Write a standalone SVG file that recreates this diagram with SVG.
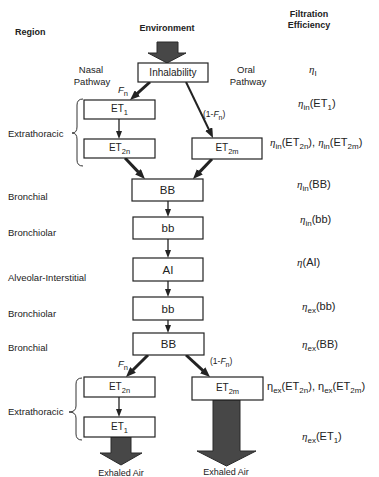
<svg xmlns="http://www.w3.org/2000/svg" width="379" height="477" viewBox="0 0 379 477">
<style>
  text { font-family: "Liberation Sans", Arial, sans-serif; fill: #222; }
  .hdr { font-size: 9px; font-weight: bold; }
  .reg { font-size: 9.5px; }
  .lbl { font-size: 10px; text-anchor: middle; }
  .big { font-size: 11.5px; text-anchor: middle; }
  .eff { font-size: 11px; }
  .eta { font-family: "Liberation Serif", "Times New Roman", serif; font-style: italic; }
  .box { fill: #fff; stroke: #222; stroke-width: 1.2; }
  .thin { stroke: #222; stroke-width: 1.3; fill: none; }
  .thick { stroke: #222; stroke-width: 3; fill: none; }
  .med { stroke: #222; stroke-width: 2; fill: none; }
  .brace { stroke: #333; stroke-width: 1; fill: none; }
  .fat { fill: #474747; stroke: #2a2a2a; stroke-width: 1; }
</style>
<defs>
  <marker id="ah" markerUnits="userSpaceOnUse" markerWidth="8" markerHeight="6" refX="0.5" refY="3" orient="auto">
    <path d="M0,0 L8,3 L0,6 z" fill="#222"/>
  </marker>
  <marker id="ahT" markerUnits="userSpaceOnUse" markerWidth="10" markerHeight="8" refX="0.5" refY="4" orient="auto">
    <path d="M0,0 L10,4 L0,8 z" fill="#222"/>
  </marker>
</defs>

<!-- headers -->
<text class="hdr" x="15" y="35">Region</text>
<text class="hdr" x="167" y="31" text-anchor="middle">Environment</text>
<text class="hdr" x="309" y="17" text-anchor="middle">Filtration</text>
<text class="hdr" x="309" y="28" text-anchor="middle">Efficiency</text>

<!-- region labels -->
<g id="region-labels">
  <text class="reg" x="8" y="137">Extrathoracic</text>
  <text class="reg" x="8" y="200">Bronchial</text>
  <text class="reg" x="8" y="236">Bronchiolar</text>
  <text class="reg" x="8" y="281">Alveolar-Interstitial</text>
  <text class="reg" x="8" y="317">Bronchiolar</text>
  <text class="reg" x="8" y="351">Bronchial</text>
  <text class="reg" x="8" y="415">Extrathoracic</text>
</g>

<!-- braces -->
<path class="brace" d="M83,99 Q77,99 77,105 L77,127 Q77,133 72,133 Q77,133 77,139 L77,160 Q77,166 83,166"/>
<path class="brace" d="M82,378 Q76,378 76,384 L76,406 Q76,412 69,412 Q76,412 76,418 L76,434 Q76,440 82,440"/>

<!-- pathway labels -->
<text class="reg" x="91" y="73" text-anchor="middle">Nasal</text>
<text class="reg" x="92" y="85" text-anchor="middle">Pathway</text>
<text class="reg" x="246" y="73" text-anchor="middle">Oral</text>
<text class="reg" x="248" y="85" text-anchor="middle">Pathway</text>

<!-- big arrows -->
<polygon class="fat" points="157,42 178,42 178,53 186,53 167,63 148,53 157,53"/>
<polygon class="fat" points="111,437 131,437 131,453 142,453 121,465 100,453 111,453"/>
<polygon class="fat" points="213,400 240,400 240,451 256,451 226.5,466 197,451 213,451"/>
<text class="reg" x="121" y="476" text-anchor="middle" style="font-size:9px">Exhaled Air</text>
<text class="reg" x="226" y="475" text-anchor="middle" style="font-size:9px">Exhaled Air</text>

<!-- connectors -->
<g id="connectors">
  <line class="thick" x1="150" y1="82" x2="137.1" y2="93.6" marker-end="url(#ahT)"/>
  <line class="med" x1="186" y1="82" x2="208.9" y2="129.5" marker-end="url(#ahT)"/>
  <line class="thin" x1="119" y1="119" x2="119" y2="131.5" marker-end="url(#ah)"/>
  <line class="thick" x1="125" y1="158" x2="138.4" y2="172.1" marker-end="url(#ahT)"/>
  <line class="thick" x1="212" y1="159" x2="199.5" y2="172.1" marker-end="url(#ahT)"/>
  <line class="thin" x1="168" y1="201" x2="168" y2="209.5" marker-end="url(#ah)"/>
  <line class="thin" x1="168" y1="239" x2="168" y2="250.5" marker-end="url(#ah)"/>
  <line class="thin" x1="168" y1="281" x2="168" y2="289.5" marker-end="url(#ah)"/>
  <line class="thin" x1="168" y1="320" x2="168" y2="325.5" marker-end="url(#ah)"/>
  <line class="thick" x1="148" y1="355" x2="132.7" y2="370.3" marker-end="url(#ahT)"/>
  <line class="thick" x1="186" y1="355" x2="203" y2="370.6" marker-end="url(#ahT)"/>
  <line class="thin" x1="119" y1="397" x2="119" y2="409.5" marker-end="url(#ah)"/>
  <text class="reg" x="118" y="93"><tspan font-style="italic">F</tspan><tspan dy="2.5" font-size="7.5">n</tspan></text>
  <text class="reg" x="203" y="117" style="font-size:8.5px">(1-<tspan font-style="italic">F</tspan><tspan dy="2.5" font-size="7">n</tspan><tspan dy="-2.5">)</tspan></text>
  <text class="reg" x="118" y="367"><tspan font-style="italic">F</tspan><tspan dy="2.5" font-size="7.5">n</tspan></text>
  <text class="reg" x="210" y="364" style="font-size:8.5px">(1-<tspan font-style="italic">F</tspan><tspan dy="2.5" font-size="7">n</tspan><tspan dy="-2.5">)</tspan></text>
</g>

<!-- nodes -->
<g id="inhalability">
  <rect class="box" x="138" y="63" width="70" height="19"/>
  <text class="lbl" x="173" y="76">Inhalability</text>
</g>
<g id="et1-in">
  <rect class="box" x="84" y="100" width="71" height="19"/>
  <text class="lbl" x="119.5" y="112">ET<tspan dy="3" font-size="7.5">1</tspan></text>
</g>
<g id="et2n-in">
  <rect class="box" x="84" y="139" width="71" height="19"/>
  <text class="lbl" x="119.5" y="151">ET<tspan dy="3" font-size="7.5">2n</tspan></text>
</g>
<g id="et2m-in">
  <rect class="box" x="192" y="138" width="70" height="21"/>
  <text class="lbl" x="227" y="151">ET<tspan dy="3" font-size="7.5">2m</tspan></text>
</g>
<g id="bb-in">
  <rect class="box" x="132" y="179" width="71" height="22"/>
  <text class="big" x="167.5" y="194">BB</text>
</g>
<g id="bbs-in">
  <rect class="box" x="133" y="217" width="70" height="22"/>
  <text class="big" x="168" y="232">bb</text>
</g>
<g id="ai">
  <rect class="box" x="133" y="258" width="70" height="23"/>
  <text class="big" x="168" y="273.5">AI</text>
</g>
<g id="bbs-ex">
  <rect class="box" x="133" y="297" width="70" height="23"/>
  <text class="big" x="168" y="312.5">bb</text>
</g>
<g id="bb-ex">
  <rect class="box" x="133" y="333" width="71" height="22"/>
  <text class="big" x="168.5" y="348">BB</text>
</g>
<g id="et2n-ex">
  <rect class="box" x="84" y="377" width="71" height="20"/>
  <text class="lbl" x="119.5" y="389.5">ET<tspan dy="3" font-size="7.5">2n</tspan></text>
</g>
<g id="et1-ex">
  <rect class="box" x="84" y="417" width="71" height="20"/>
  <text class="lbl" x="119.5" y="429.5">ET<tspan dy="3" font-size="7.5">1</tspan></text>
</g>
<g id="et2m-ex">
  <rect class="box" x="192" y="377" width="71" height="23"/>
  <text class="lbl" x="227.5" y="390.5">ET<tspan dy="3" font-size="7.5">2m</tspan></text>
</g>

<!-- filtration efficiencies -->
<g id="efficiencies">
  <text class="eff" x="309" y="73"><tspan class="eta">η</tspan><tspan dy="3" font-size="8">I</tspan></text>
  <text class="eff" x="298" y="107"><tspan class="eta">η</tspan><tspan dy="3" font-size="8">in</tspan><tspan dy="-3">(ET</tspan><tspan dy="3" font-size="8">1</tspan><tspan dy="-3">)</tspan></text>
  <text class="eff" x="270" y="146"><tspan class="eta">η</tspan><tspan dy="3" font-size="8">in</tspan><tspan dy="-3">(ET</tspan><tspan dy="3" font-size="8">2n</tspan><tspan dy="-3">), </tspan><tspan class="eta">η</tspan><tspan dy="3" font-size="8">in</tspan><tspan dy="-3">(ET</tspan><tspan dy="3" font-size="8">2m</tspan><tspan dy="-3">)</tspan></text>
  <text class="eff" x="297" y="188"><tspan class="eta">η</tspan><tspan dy="3" font-size="8">in</tspan><tspan dy="-3">(BB)</tspan></text>
  <text class="eff" x="300" y="223"><tspan class="eta">η</tspan><tspan dy="3" font-size="8">in</tspan><tspan dy="-3">(bb)</tspan></text>
  <text class="eff" x="297" y="266"><tspan class="eta">η</tspan>(AI)</text>
  <text class="eff" x="302" y="310"><tspan class="eta">η</tspan><tspan dy="3" font-size="8">ex</tspan><tspan dy="-3">(bb)</tspan></text>
  <text class="eff" x="302" y="348"><tspan class="eta">η</tspan><tspan dy="3" font-size="8">ex</tspan><tspan dy="-3">(BB)</tspan></text>
  <text class="eff" x="267" y="390">η<tspan dy="3" font-size="8">ex</tspan><tspan dy="-3">(ET</tspan><tspan dy="3" font-size="8">2n</tspan><tspan dy="-3">), η</tspan><tspan dy="3" font-size="8">ex</tspan><tspan dy="-3">(ET</tspan><tspan dy="3" font-size="8">2m</tspan><tspan dy="-3">)</tspan></text>
  <text class="eff" x="302" y="440"><tspan class="eta">η</tspan><tspan dy="3" font-size="8">ex</tspan><tspan dy="-3">(ET</tspan><tspan dy="3" font-size="8">1</tspan><tspan dy="-3">)</tspan></text>
</g>
</svg>
